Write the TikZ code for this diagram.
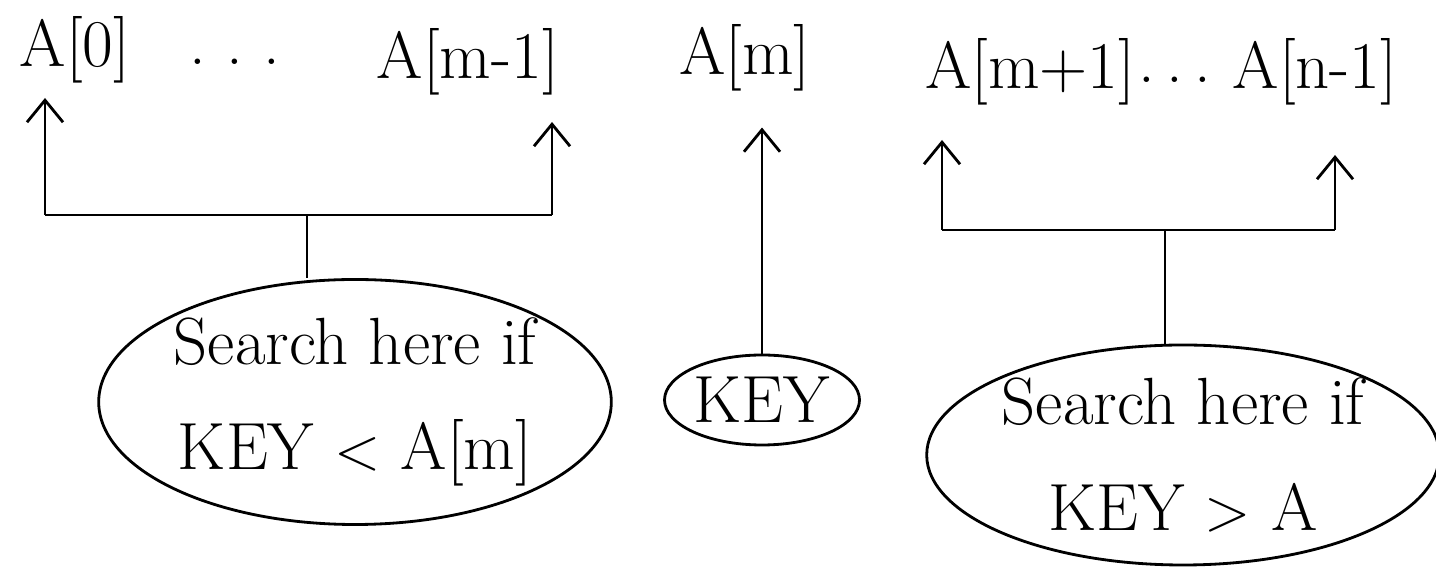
\documentclass[tikz,border=0pt]{standalone}
\usepackage{tikz}
\usetikzlibrary{shapes.geometric, arrows, arrows.meta, positioning, calc}

\begin{document}
\begin{tikzpicture}[
    lbl/.style={font=\fontsize{19}{23}\selectfont, inner sep=1pt},
    blob/.style={ellipse, draw, thick, align=center, inner sep=0pt,
                 font=\fontsize{19}{30}\selectfont},
    arr/.style={-{Straight Barb[length=2.2mm,width=3.6mm]}, thick},
    brk/.style={thick}
]
\useasboundingbox (0,0) rectangle (14.36,-5.70);

%---------------- Array elements ----------------%
\node[lbl] (a0)   at (0.75,-0.50) {A[0]};
\node[lbl] (dot1) at (2.35,-0.62) {.\ .\ .};
\node[lbl] (am1)  at (4.68,-0.62) {A[m-1]};
\node[lbl] (am)   at (7.45,-0.58) {A[m]};
\node[lbl] (amp1) at (10.30,-0.72) {A[m+1]};
\node[lbl] (dot2) at (11.75,-0.80) {.\,.\,.};
\node[lbl] (an1)  at (13.15,-0.72) {A[n-1]};

%---------------- Search regions ----------------%
\node[blob, minimum width=4.9cm, minimum height=2.45cm] (lsrch) at (3.55,-4.02)
      {Search here if\\KEY $<$ A[m]};
\node[blob, minimum width=1.95cm, minimum height=0.9cm] (key) at (7.62,-4.00) {KEY};
\node[blob, minimum width=4.85cm, minimum height=2.2cm] (rsrch) at (11.83,-4.55)
      {Search here if\\KEY $>$ A};

%---------------- Left bracket ----------------%
\coordinate (lb1) at (0.45,-2.15);
\coordinate (lb2) at (5.52,-2.15);
\coordinate (lbm) at (3.07,-2.15);
\draw[brk] (lb1) -- (lb2);
\draw[arr] (lb1) -- (0.45,-0.98);
\draw[arr] (lb2) -- (5.52,-1.22);
\draw[brk] (lbm) -- (lbm |- lsrch.north);

%---------------- Key arrow ----------------%
\draw[arr] (key.north) -- ($(key.north |- am.south)+(0,-0.32)$);

%---------------- Right bracket ----------------%
\coordinate (rb1) at (9.42,-2.30);
\coordinate (rb2) at (13.35,-2.30);
\coordinate (rbm) at (11.65,-2.30);
\draw[brk] (rb1) -- (rb2);
\draw[arr] (rb1) -- (9.42,-1.40);
\draw[arr] (rb2) -- (13.35,-1.55);
\draw[brk] (rbm) -- (rbm |- rsrch.north);

\end{tikzpicture}
\end{document}
